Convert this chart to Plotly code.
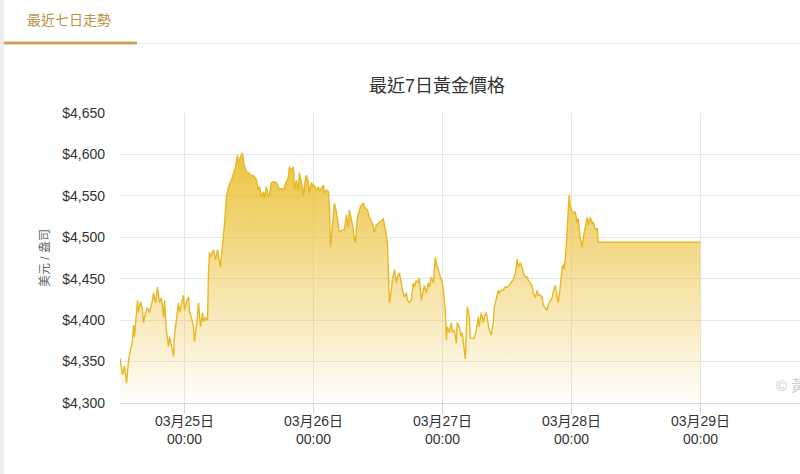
import pandas as pd
import plotly.graph_objects as go

# ---- data (hours relative to 2026-03-25 00:00, price USD/oz) ----
hours = [-12.0, -11.53, -11.15, -10.78, -10.41, -10.04, -9.67, -9.48, -9.30, -8.74, -8.55, -8.18, -7.81, -7.62,
         -7.25, -6.88, -6.51, -5.95, -5.76, -5.39, -5.02, -4.65, -4.28, -3.90, -3.72, -3.35, -2.97, -2.79,
         -2.42, -2.04, -1.86, -1.49, -1.12, -0.93, -0.56, -0.19, 0.0, 0.37, 0.74, 0.93, 1.30, 1.67, 1.86,
         2.23, 2.42, 2.60, 2.97, 3.35, 3.53, 3.90, 4.28, 4.46, 4.65, 4.83, 5.39, 5.76, 6.13, 6.69, 7.06,
         7.44, 7.81, 8.18, 8.74, 9.11, 9.48, 9.85, 10.04, 10.41, 10.78, 11.15, 11.53, 11.90, 12.27, 12.64,
         13.01, 13.38, 13.76, 13.94, 14.31, 14.69, 14.87, 15.24, 15.62, 15.80, 16.17, 16.55, 17.10, 17.47,
         17.66, 18.03, 18.40, 18.59, 18.96, 19.33, 19.52, 19.89, 20.26, 20.45, 20.82, 21.19, 21.38, 21.75,
         22.12, 22.31, 22.68, 23.05, 23.24, 23.61, 23.98, 24.17, 24.54, 24.91, 25.10, 25.47, 25.84, 26.03,
         26.40, 26.77, 26.96, 27.14, 27.51, 27.89, 28.26, 28.63, 28.81, 29.37, 29.74, 30.12, 30.49, 30.67,
         31.05, 31.42, 31.60, 31.79, 32.16, 32.72, 33.28, 33.65, 34.02, 34.39, 34.95, 35.32, 35.69, 36.06,
         36.62, 36.99, 37.37, 37.74, 37.92, 38.11, 38.48, 38.67, 39.04, 39.41, 39.60, 39.97, 40.34, 40.53,
         40.90, 41.27, 41.46, 41.83, 42.20, 42.57, 42.76, 43.13, 43.50, 43.69, 44.06, 44.43, 44.62, 44.99,
         45.36, 45.55, 45.92, 46.29, 46.48, 46.66, 47.03, 47.22, 47.59, 47.96, 48.15, 48.52, 48.71, 48.89,
         49.26, 49.64, 49.82, 50.19, 50.56, 50.75, 51.12, 51.49, 51.68, 52.05, 52.24, 52.42, 52.61, 52.98,
         53.17, 53.54, 53.91, 54.28, 54.65, 54.84, 55.21, 55.58, 55.77, 56.14, 56.51, 56.70, 57.07, 57.44,
         57.63, 58.00, 58.37, 58.56, 58.93, 59.30, 59.67, 60.05, 60.42, 60.98, 61.16, 61.53, 61.90, 62.09,
         62.46, 62.83, 63.02, 63.39, 63.76, 63.95, 64.32, 64.69, 64.88, 65.25, 65.62, 65.81, 66.18, 66.55,
         66.74, 67.11, 67.48, 67.67, 68.04, 68.41, 68.60, 68.97, 69.34, 69.53, 69.90, 70.27, 70.46, 70.64,
         71.01, 71.20, 71.39, 71.57, 71.76, 72.13, 72.32, 72.69, 73.06, 73.24, 73.62, 73.99, 74.17, 74.55,
         74.92, 75.10, 75.48, 75.85, 76.03, 76.41, 76.78, 76.96, 96.0]

prices = [4354, 4334, 4345, 4324, 4352, 4366, 4376, 4394, 4380, 4424, 4409, 4422, 4412, 4397,
          4409, 4415, 4409, 4424, 4433, 4421, 4440, 4421, 4427, 4403, 4424, 4386, 4368, 4380,
          4366, 4356, 4382, 4403, 4421, 4409, 4421, 4430, 4412, 4422, 4428, 4410, 4403, 4392, 4374,
          4392, 4404, 4421, 4392, 4409, 4398, 4403, 4400, 4457, 4482, 4476, 4485, 4473, 4485, 4464, 4488,
          4517, 4549, 4561, 4569, 4578, 4585, 4599, 4590, 4597, 4602, 4585, 4579, 4578, 4575, 4575,
          4573, 4569, 4557, 4561, 4549, 4555, 4547, 4561, 4549, 4551, 4566, 4567, 4566, 4561,
          4557, 4559, 4557, 4561, 4566, 4573, 4585, 4581, 4585, 4557, 4569, 4557, 4578, 4566,
          4549, 4563, 4575, 4566, 4553, 4566, 4561, 4563, 4557, 4561, 4555, 4559, 4563, 4553,
          4557, 4555, 4537, 4488, 4517, 4541, 4531, 4512, 4506, 4509, 4509, 4527, 4512, 4533,
          4521, 4509, 4497, 4494, 4524, 4537, 4541, 4535, 4533, 4524, 4517, 4506, 4515, 4517,
          4521, 4522, 4509, 4493, 4461, 4421, 4436, 4448, 4461, 4445, 4452, 4457, 4445, 4436,
          4428, 4433, 4424, 4421, 4424, 4445, 4440, 4448, 4445, 4451, 4424, 4436, 4442, 4433,
          4445, 4440, 4452, 4445, 4464, 4476, 4464, 4461, 4452, 4445, 4436, 4412, 4376, 4392,
          4385, 4397, 4385, 4388, 4372, 4397, 4392, 4380, 4385, 4368, 4353, 4388, 4416, 4404,
          4378, 4378, 4378, 4388, 4404, 4392, 4409, 4397, 4404, 4409, 4392, 4388, 4382, 4397,
          4416, 4428, 4436, 4433, 4436, 4436, 4440, 4440, 4442, 4448, 4448, 4457, 4474, 4464,
          4469, 4463, 4457, 4452, 4452, 4448, 4445, 4440, 4433, 4427, 4436, 4430, 4430, 4427,
          4418, 4415, 4412, 4418, 4424, 4428, 4434, 4442, 4428, 4421, 4440, 4464, 4467, 4461,
          4488, 4517, 4533, 4551, 4537, 4531, 4529, 4531, 4517, 4523, 4499, 4488, 4499, 4512,
          4524, 4515, 4524, 4517, 4518, 4509, 4511, 4494, 4494]

tick_dates = ["2026-03-25", "2026-03-26", "2026-03-27", "2026-03-28", "2026-03-29", "2026-03-30"]
tick_text = ["03月25日<br>00:00", "03月26日<br>00:00", "03月27日<br>00:00",
             "03月28日<br>00:00", "03月29日<br>00:00", "03月30日<br>00:00"]
y_ticks = [4300, 4350, 4400, 4450, 4500, 4550, 4600, 4650]
y_tick_text = ["$4,300", "$4,350", "$4,400", "$4,450", "$4,500", "$4,550", "$4,600", "$4,650"]

base = pd.Timestamp("2026-03-25 00:00")
times = [base + pd.Timedelta(hours=h) for h in hours]

FONT = "Liberation Sans, Arial, Noto Sans CJK TC, sans-serif"
GOLD = "rgb(232,184,36)"

fig = go.Figure()
fig.add_trace(go.Scatter(
    x=times, y=prices, mode="lines",
    line=dict(color=GOLD, width=1.4),
    fill="tozeroy",
    fillgradient=dict(type="vertical", start=4300, stop=4610,
                      colorscale=[[0, "rgba(236,192,52,0.02)"], [1, "rgba(234,190,48,0.95)"]]),
    hoverinfo="skip", showlegend=False,
))

W, H = 800, 474
L, R, T, B = 120, 0, 113, 71
pw, ph = W - L - R, H - T - B


def px(xp):
    return (xp - L) / pw


def py(yp):
    return (H - B - yp) / ph


fig.update_layout(
    width=W, height=H,
    margin=dict(l=L, r=R, t=T, b=B, autoexpand=False),
    paper_bgcolor="white", plot_bgcolor="white",
    font=dict(family=FONT, color="#333333", size=14),
    title=dict(text="最近7日黃金價格", x=437 / W, xref="container", xanchor="center",
               y=1 - 86 / H, yref="container", yanchor="middle",
               font=dict(size=18, color="#333333", family=FONT)),
    xaxis=dict(
        type="date",
        range=[base + pd.Timedelta(hours=-12), base + pd.Timedelta(hours=114.5)],
        tickvals=tick_dates, ticktext=tick_text,
        showgrid=True, gridcolor="#e6e6e6", gridwidth=1,
        showline=True, linecolor="#ccd6eb", linewidth=1,
        ticks="outside", ticklen=10, tickcolor="#ccd6eb",
        ticklabelstandoff=-5,
        tickfont=dict(size=14, color="#333333"),
        zeroline=False, fixedrange=True,
    ),
    yaxis=dict(
        range=[4300, 4650], tickvals=y_ticks, ticktext=y_tick_text,
        showgrid=True, gridcolor="#e6e6e6", gridwidth=1,
        showline=False, zeroline=False, ticks="",
        ticklabelstandoff=14,
        tickfont=dict(size=14, color="#333333"),
        fixedrange=True,
    ),
    shapes=[
        dict(type="rect", xref="paper", yref="paper", x0=px(0), x1=px(4), y0=py(H), y1=py(0),
             fillcolor="#eeeeee", line=dict(width=0), layer="below"),
        dict(type="line", xref="paper", yref="paper", x0=px(137), x1=px(W), y0=py(43.5), y1=py(43.5),
             line=dict(color="#ececec", width=1)),
        dict(type="rect", xref="paper", yref="paper", x0=px(4), x1=px(137), y0=py(44.5), y1=py(41.5),
             fillcolor="#c9a55f", line=dict(width=0)),
    ],
    annotations=[
        dict(text="最近七日走勢", xref="paper", yref="paper", x=px(25), y=py(20),
             xanchor="left", yanchor="middle", showarrow=False,
             font=dict(size=14, color="#b89448", family=FONT)),
        dict(text="美元 / 盎司", xref="paper", yref="paper", x=px(45), y=py(258),
             xanchor="center", yanchor="middle", textangle=-90, showarrow=False,
             font=dict(size=12, color="#666666", family=FONT)),
        dict(text="© 黃金價格網", xref="paper", yref="paper", x=px(774), y=py(385),
             xanchor="left", yanchor="middle", showarrow=False,
             font=dict(size=15, color="#cccccc", family=FONT)),
    ],
)

fig.write_html("out.html", config={"displayModeBar": False},
               post_script="document.body.style.margin='0';document.body.style.overflow='hidden';")
